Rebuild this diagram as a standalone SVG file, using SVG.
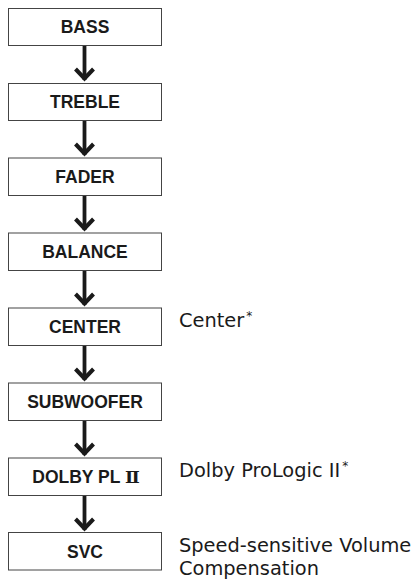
<svg xmlns="http://www.w3.org/2000/svg" width="414" height="579" viewBox="0 0 414 579">
<defs>
<style>
.box{fill:#fff;stroke:#444;stroke-width:1}
.lbl{font-family:"Liberation Sans",Arial,sans-serif;font-weight:bold;font-size:17.5px;fill:#1a1a1a;text-anchor:middle}
.note{font-family:"DejaVu Sans",Verdana,sans-serif;font-size:19.4px;fill:#1a1a1a}
.ast{font-size:12px}
.conn{stroke:#1a1a1a;stroke-width:3.8;fill:none}
</style>
<marker id="head" markerUnits="userSpaceOnUse" viewBox="-15 -13 20 26" markerWidth="20" markerHeight="26" refX="0" refY="0" orient="auto">
<path d="M-11,-9 L-1.5,0 L-11,9" fill="none" stroke="#1a1a1a" stroke-width="4" stroke-linejoin="miter"/>
</marker>
</defs>
<rect width="414" height="579" fill="#fff"/>
<g id="connectors">
<line class="conn" x1="84.5" y1="46" x2="84.5" y2="80" marker-end="url(#head)"/>
<line class="conn" x1="84.5" y1="121" x2="84.5" y2="155" marker-end="url(#head)"/>
<line class="conn" x1="84.5" y1="196" x2="84.5" y2="230" marker-end="url(#head)"/>
<line class="conn" x1="84.5" y1="271" x2="84.5" y2="305" marker-end="url(#head)"/>
<line class="conn" x1="84.5" y1="346" x2="84.5" y2="380" marker-end="url(#head)"/>
<line class="conn" x1="84.5" y1="421" x2="84.5" y2="455" marker-end="url(#head)"/>
<line class="conn" x1="84.5" y1="496" x2="84.5" y2="530" marker-end="url(#head)"/>
</g>
<g id="bass"><rect class="box" x="8.5" y="8.5" width="153" height="37"/><text class="lbl" x="85" y="33.3">BASS</text></g>
<g id="treble"><rect class="box" x="8.5" y="83.5" width="153" height="37"/><text class="lbl" x="85" y="108.3">TREBLE</text></g>
<g id="fader"><rect class="box" x="8.5" y="158" width="153" height="37.5"/><text class="lbl" x="85" y="183">FADER</text></g>
<g id="balance"><rect class="box" x="8.5" y="233" width="153" height="37.5"/><text class="lbl" x="85" y="258">BALANCE</text></g>
<g id="center"><rect class="box" x="8.5" y="308" width="153" height="37.5"/><text class="lbl" x="85" y="333">CENTER</text><text class="note" x="179" y="326.7">Center<tspan class="ast" dx="2" dy="-7">*</tspan></text></g>
<g id="subwoofer"><rect class="box" x="8.5" y="383" width="153" height="37.5"/><text class="lbl" x="85" y="408">SUBWOOFER</text></g>
<g id="dolby"><rect class="box" x="8.5" y="458" width="153" height="37.5"/><text class="lbl" x="86" y="483">DOLBY PL <tspan font-family="'DejaVu Serif','DejaVu Sans',serif">Ⅱ</tspan></text><text class="note" x="179" y="477">Dolby ProLogic II<tspan class="ast" dx="2" dy="-7">*</tspan></text></g>
<g id="svc"><rect class="box" x="8.5" y="532.5" width="153" height="37.5"/><text class="lbl" x="85" y="557.5">SVC</text><text class="note" x="179" y="552">Speed-sensitive Volume</text><text class="note" x="179" y="574.5">Compensation</text></g>
</svg>
